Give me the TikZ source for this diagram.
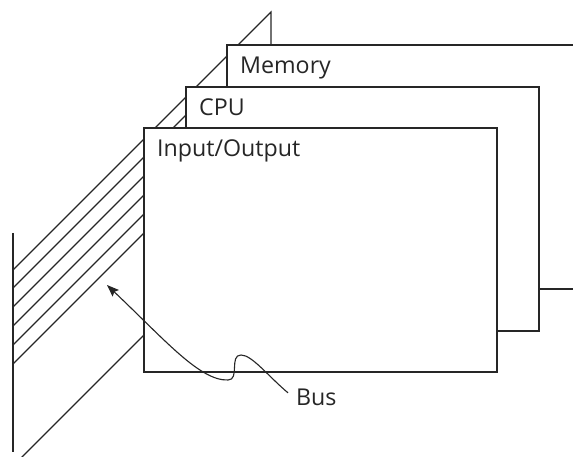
\documentclass[tikz,border=0pt]{standalone}
\usepackage{fontspec}
\setmainfont{Open Sans}
\usetikzlibrary{arrows.meta,calc,backgrounds}
\definecolor{ink}{HTML}{262626}

\begin{document}
\begin{tikzpicture}[x=1pt,y=-1pt,
  wire/.style={line width=1.1pt, draw=ink},
  unit/.style={draw=ink, line width=1.1pt, fill=white, anchor=north west,
               inner sep=0pt, outer sep=0pt},
  tag/.style={anchor=base west, inner sep=0pt, text=ink,
              font=\fontsize{23.2}{28}\selectfont},
]
\useasboundingbox (0,0) rectangle (573,457);
\clip (0,0) rectangle (573,457);

% stacked units, back to front
\node[unit, minimum width=360, minimum height=244] (mem) at (227,45) {};
\node[unit, minimum width=353, minimum height=244] (cpu) at (186,87) {};
\node[unit, minimum width=353, minimum height=244] (io)  at (144,128) {};

\node[tag] (memtxt) at ($(mem.north west)+(13,29)$) {Memory};
\node[tag] (cputxt) at ($(cpu.north west)+(13,29)$) {CPU};
\node[tag] (iotxt)  at ($(io.north west)+(13,29)$)  {Input/Output};

% bus wires behind the units
\begin{scope}[on background layer]
  \coordinate (apex) at (271,12);
  \coordinate (railtop) at (13,233);
  \coordinate (railbot) at (13,452);
  \draw[wire] (railtop) -- (railbot);
  \draw[wire] (mem.north west -| apex) -- (apex) -- ++(-258,258);
  \draw[wire] ($(cpu.north west)+(0,28)$) -- ++(-173,173);
  \foreach \k in {0,...,3}
    \draw[wire] ($(io.north west)+(0,48+19*\k)$) -- ++(-131,131);
  \draw[wire] ($(io.north west)+(0,207)$) -- ++(-131,131);
\end{scope}

% bus label with its leader
\node[tag] (bus) at (296,405) {Bus};
\coordinate (tip) at (107,285);
\draw[wire, -{Stealth[length=12pt,width=9pt,inset=2pt]}]
  ([shift={(-8,-4)}]bus.west)
    .. controls (268,376) and (252,355) .. (241,355)
    .. controls (229,355) and (240,380) .. (228,380)
    .. controls (200,381) and (165,340) .. (tip);
\end{tikzpicture}
\end{document}
